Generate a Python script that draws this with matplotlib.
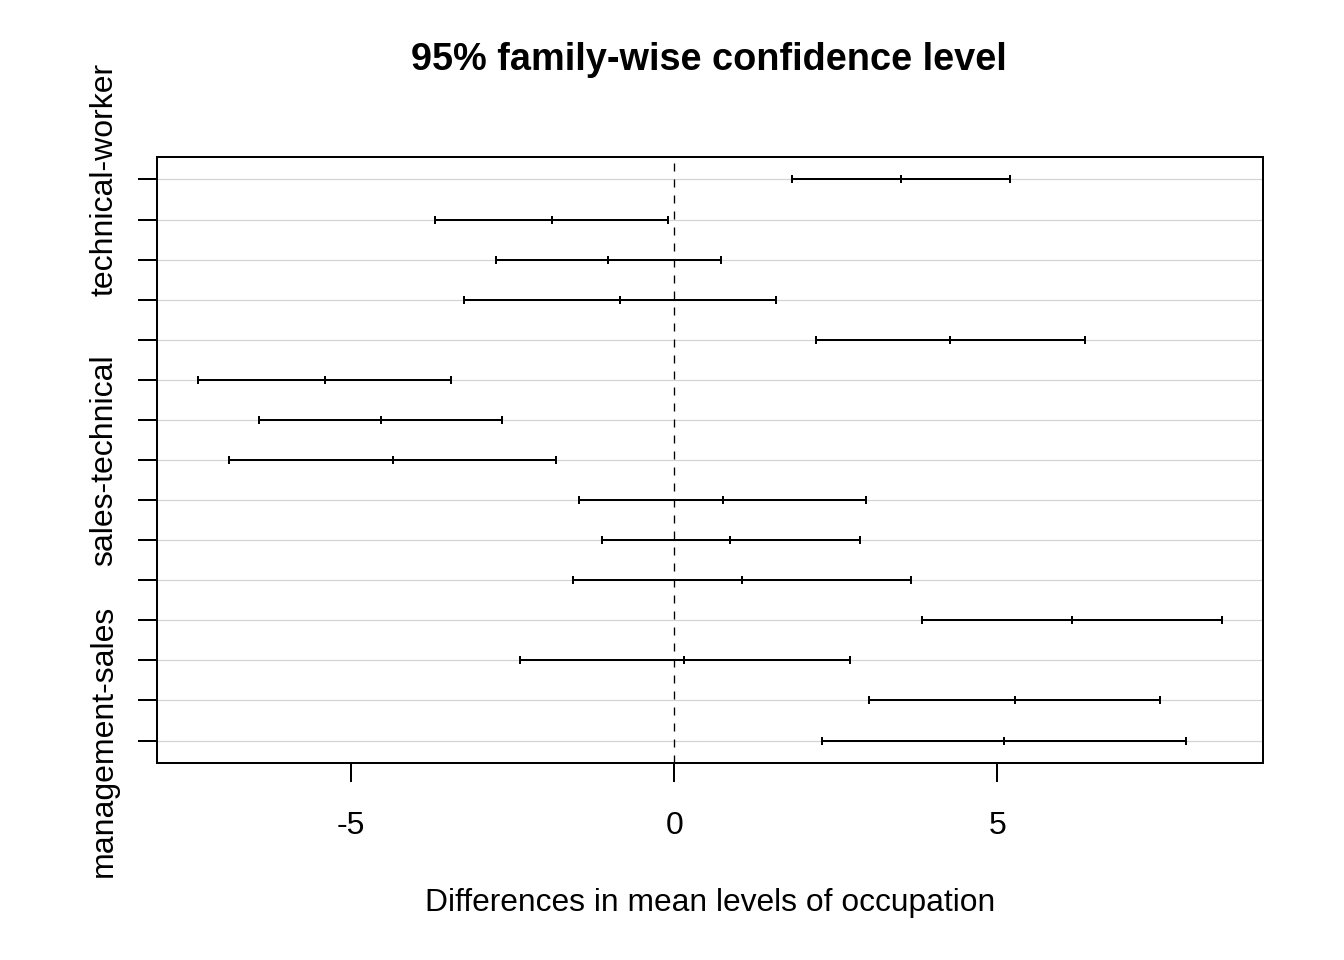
import matplotlib
matplotlib.use("Agg")
import matplotlib.pyplot as plt

plt.rcParams["font.family"] = ["Liberation Sans", "DejaVu Sans"]

# Tukey HSD comparisons, top row first
comparison_labels = ["technical-worker", "", "", "", "", "", "",
                     "sales-technical", "", "", "", "", "", "", "management-sales"]
diff = [3.51, -1.89, -1.02, -0.84, 4.27, -5.41, -4.53, -4.35,
        0.75, 0.87, 1.05, 6.16, 0.16, 5.27, 5.10]
lwr = [1.82, -3.70, -2.75, -3.26, 2.19, -7.37, -6.42, -6.89,
       -1.48, -1.12, -1.57, 3.83, -2.39, 3.01, 2.29]
upr = [5.20, -0.09, 0.72, 1.57, 6.36, -3.46, -2.66, -1.83,
       2.97, 2.87, 3.66, 8.48, 2.72, 7.52, 7.92]
x_ticks = [-5, 0, 5]

n = len(diff)
yvals = list(range(n, 0, -1))

fig = plt.figure(figsize=(7, 5), dpi=192)
fig.patch.set_facecolor("white")
ax = fig.add_axes([157 / 1344, 1 - 763 / 960, (1263 - 157) / 1344, (763 - 157) / 960])

for y in yvals:
    ax.axhline(y, color="#D3D3D3", lw=0.45, zorder=1)
ax.axvline(0, color="black", lw=0.5, linestyle=(0, (6, 6)), zorder=2)

for y, lo, d, hi in zip(yvals, lwr, diff, upr):
    ax.plot([lo, hi], [y, y], color="black", lw=0.75, zorder=3)
    ax.plot([lo, d, hi], [y, y, y], linestyle="none", marker="|",
            markersize=3.2, markeredgewidth=0.75, color="black", zorder=4)

xmin = min(lwr)
xmax = max(upr)
xr = xmax - xmin
ax.set_xlim(xmin - 0.04 * xr, xmax + 0.04 * xr)
ax.set_ylim(1 - 0.04 * (n - 1), n + 0.04 * (n - 1))

ax.set_xticks(x_ticks)
ax.set_xticklabels([str(t) for t in x_ticks])
ax.set_yticks(yvals)
ax.set_yticklabels(comparison_labels, rotation=90, va="center")

ax.tick_params(axis="both", direction="out", length=7.2, width=0.75,
               labelsize=12, colors="black")
ax.tick_params(axis="x", pad=10.8)
ax.tick_params(axis="y", pad=7)
for s in ax.spines.values():
    s.set_linewidth(0.75)
    s.set_color("black")

fig.text(709 / 1344, 1 - 60 / 960, "95% family-wise confidence level",
         ha="center", va="center", fontsize=14.2, fontweight="bold")
fig.text(710 / 1344, 1 - 903 / 960, "Differences in mean levels of occupation",
         ha="center", va="center", fontsize=11.9)

fig.savefig("out.png", dpi=192, facecolor="white")
plt.close(fig)
